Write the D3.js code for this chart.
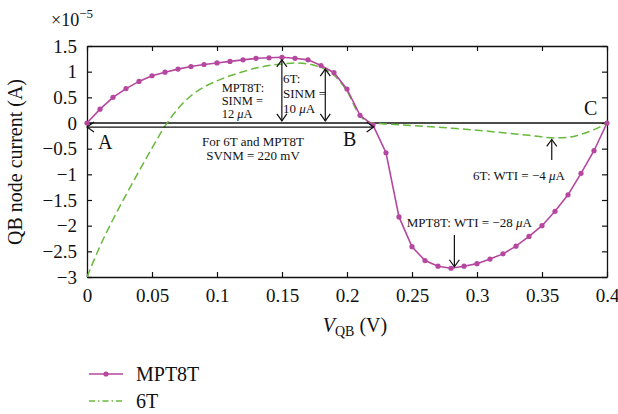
<!DOCTYPE html>
<html>
<head>
<meta charset="utf-8">
<title>QB node current</title>
<style>
  body { margin: 0; background: #fff; }
  text, tspan { font-family: "Liberation Serif", "DejaVu Serif", serif; fill: #111; }
</style>
</head>
<body>
<div id="chart"></div>
<script src="https://cdn.jsdelivr.net/npm/d3@7/dist/d3.min.js"></script>
<script>
// MPT8T: one marker every 10 mV (current in units of 1e-5 A)
var voltage = [0, 0.01, 0.02, 0.03, 0.04, 0.05, 0.06, 0.07, 0.08, 0.09,
               0.10, 0.11, 0.12, 0.13, 0.14, 0.15, 0.16, 0.17, 0.18, 0.19,
               0.20, 0.21, 0.22, 0.23, 0.24, 0.25, 0.26, 0.27, 0.28, 0.29,
               0.30, 0.31, 0.32, 0.33, 0.34, 0.35, 0.36, 0.37, 0.38, 0.39, 0.40];
var mpt8tCurrent = [0, 0.27, 0.50, 0.67, 0.81, 0.92, 0.99, 1.05, 1.10, 1.14,
                    1.17, 1.20, 1.23, 1.26, 1.27, 1.28, 1.26, 1.23, 1.12, 0.98,
                    0.66, 0.15, -0.04, -0.58, -1.83, -2.41, -2.68, -2.79, -2.83, -2.79,
                    -2.74, -2.65, -2.55, -2.40, -2.21, -2.00, -1.72, -1.40, -0.98, -0.54, 0];

// 6T curve (dashed)
var sixTVoltage = [0, 0.01, 0.02, 0.03, 0.04, 0.05, 0.06, 0.07, 0.08, 0.09,
                   0.10, 0.11, 0.12, 0.13, 0.14, 0.15, 0.16, 0.17, 0.18, 0.19,
                   0.20, 0.21, 0.22, 0.23, 0.25, 0.28, 0.30, 0.32, 0.34, 0.36,
                   0.37, 0.38, 0.39, 0.40];
var sixTCurrent = [-3.0, -2.40, -1.88, -1.40, -0.94, -0.49, -0.06, 0.28, 0.53, 0.70,
                   0.82, 0.92, 1.00, 1.07, 1.12, 1.15, 1.17, 1.15, 1.08, 0.93,
                   0.62, 0.14, 0.0, -0.02, -0.05, -0.10, -0.14, -0.19, -0.24, -0.29,
                   -0.28, -0.22, -0.13, 0];

var xTicks = [0, 0.05, 0.1, 0.15, 0.2, 0.25, 0.3, 0.35, 0.4];
var yTicks = [-3, -2.5, -2, -1.5, -1, -0.5, 0, 0.5, 1, 1.5];

var W = 618, H = 414;
var m = { left: 87, right: 11, top: 46, bottom: 137 };
var pw = W - m.left - m.right, ph = H - m.top - m.bottom;
var magenta = "#b5479f", green = "#67b93b";

var svg = d3.select("#chart").append("svg")
    .attr("width", W)
    .attr("height", H);

svg.append("defs").append("marker")
    .attr("id", "head")
    .attr("viewBox", "0 0 7 10")
    .attr("refX", 7).attr("refY", 5)
    .attr("markerWidth", 7).attr("markerHeight", 10)
    .attr("markerUnits", "userSpaceOnUse")
    .attr("orient", "auto-start-reverse")
    .style("overflow", "visible")
  .append("path")
    .attr("d", "M0,0 L7,5 L0,10")
    .attr("fill", "none")
    .attr("stroke", "#111")
    .attr("stroke-width", 1.2);

var g = svg.append("g").attr("transform", "translate(" + m.left + "," + m.top + ")");

var x = d3.scaleLinear().domain([0, 0.4]).range([0, pw]);
var y = d3.scaleLinear().domain([-3, 1.5]).range([ph, 0]);

function fmt(d) {
    var s = String(Math.abs(d));
    return d < 0 ? "\u2212" + s : s;
}

// axes with inward ticks
g.append("g").attr("transform", "translate(0," + ph + ")")
    .call(d3.axisBottom(x).tickValues(xTicks).tickSize(-5).tickSizeOuter(0).tickFormat(fmt))
    .call(function(a) { a.selectAll("text").attr("y", 12).attr("dy", "0.71em").style("font-size", "19px"); });
g.append("g")
    .call(d3.axisLeft(y).tickValues(yTicks).tickSize(-5).tickSizeOuter(0).tickFormat(fmt))
    .call(function(a) { a.selectAll("text").attr("x", -10).style("font-size", "19px"); });
g.append("g")
    .call(d3.axisTop(x).tickValues(xTicks).tickSize(-5).tickSizeOuter(0).tickFormat(""));
g.append("g").attr("transform", "translate(" + pw + ",0)")
    .call(d3.axisRight(y).tickValues(yTicks).tickSize(-5).tickSizeOuter(0).tickFormat(""));
g.selectAll(".domain").attr("stroke", "#111").attr("stroke-width", 1.3);
g.selectAll(".tick line").attr("stroke", "#111").attr("stroke-width", 1.2);
g.selectAll(".tick text").style("fill", "#111").style("font-family", "Liberation Serif, serif");

// zero line
g.append("line")
    .attr("x1", x(0)).attr("x2", x(0.4))
    .attr("y1", y(0)).attr("y2", y(0))
    .attr("stroke", "#111").attr("stroke-width", 1.3);

// 6T curve
var sixT = sixTVoltage.map(function(v, i) { return [v, sixTCurrent[i]]; });
g.append("path")
    .datum(sixT)
    .attr("fill", "none")
    .attr("stroke", green)
    .attr("stroke-width", 1.5)
    .attr("stroke-dasharray", "8,4")
    .attr("d", d3.line().curve(d3.curveMonotoneX)
        .x(function(d) { return x(d[0]); })
        .y(function(d) { return y(d[1]); }));

// MPT8T curve with markers
var mpt = voltage.map(function(v, i) { return [v, mpt8tCurrent[i]]; });
g.append("path")
    .datum(mpt)
    .attr("fill", "none")
    .attr("stroke", magenta)
    .attr("stroke-width", 1.6)
    .attr("d", d3.line()
        .x(function(d) { return x(d[0]); })
        .y(function(d) { return y(d[1]); }));
g.selectAll(".pt")
    .data(mpt)
    .enter().append("circle")
        .attr("class", "pt")
        .attr("cx", function(d) { return x(d[0]); })
        .attr("cy", function(d) { return y(d[1]); })
        .attr("r", 2.6)
        .attr("fill", magenta);

// annotation arrows (data units)
var arrows = [
    { x1: 0, y1: -0.08, x2: 0.2205, y2: -0.08, both: true },
    { x1: 0.1499, y1: 1.23, x2: 0.1499, y2: 0.04, both: true },
    { x1: 0.1833, y1: 1.05, x2: 0.1833, y2: 0.04, both: true },
    { x1: 0.3575, y1: -0.72, x2: 0.3575, y2: -0.32, both: false },
    { x1: 0.2826, y1: -2.18, x2: 0.2826, y2: -2.80, both: false }
];
g.selectAll(".arrow")
    .data(arrows)
    .enter().append("line")
        .attr("class", "arrow")
        .attr("x1", function(d) { return x(d.x1); })
        .attr("y1", function(d) { return y(d.y1); })
        .attr("x2", function(d) { return x(d.x2); })
        .attr("y2", function(d) { return y(d.y2); })
        .attr("stroke", "#111")
        .attr("stroke-width", 1.2)
        .attr("marker-end", "url(#head)")
        .attr("marker-start", function(d) { return d.both ? "url(#head)" : null; });

// annotation texts
var notes = [
    { x: 0.1036, y: 0.60, lines: ["MPT8T:", "SINM =", "12 |A"], step: 12.8, size: 12.5 },
    { x: 0.1508, y: 0.78, lines: ["6T:", "SINM =", "10 |A"], step: 15, size: 13 },
    { x: 0.1277, y: -0.448, lines: ["For 6T and MPT8T", "SVNM = 220 mV"], step: 14, size: 13, anchor: "middle" },
    { x: 0.297, y: -1.11, lines: ["6T: WTI = \u22124 |A"], step: 0, size: 13 },
    { x: 0.246, y: -2.026, lines: ["MPT8T: WTI = \u221228 |A"], step: 0, size: 13 },
    { x: 0.0085, y: -0.507, lines: ["A"], step: 0, size: 20 },
    { x: 0.197, y: -0.448, lines: ["B"], step: 0, size: 20 },
    { x: 0.3823, y: 0.156, lines: ["C"], step: 0, size: 20 }
];
notes.forEach(function(n) {
    n.lines.forEach(function(line, i) {
        var t = g.append("text")
            .attr("x", x(n.x))
            .attr("y", y(n.y) + i * n.step)
            .attr("text-anchor", n.anchor || "start")
            .style("font-size", n.size + "px");
        var parts = line.split("|");
        t.append("tspan").style("fill", "#111").text(parts[0]);
        if (parts.length > 1) {
            t.append("tspan").style("font-style", "italic").style("fill", "#111").text("\u03bc");
            t.append("tspan").style("fill", "#111").text(parts[1]);
        }
    });
});

// exponent
var ex = svg.append("text").attr("x", 51).attr("y", 26).style("font-size", "18px");
ex.append("tspan").text("\u00d710");
ex.append("tspan").attr("dy", -8).style("font-size", "13px").text("\u22125");

// axis titles
svg.append("text")
    .attr("transform", "translate(22," + 162 + ") rotate(-90)")
    .attr("text-anchor", "middle")
    .style("font-size", "20px")
    .text("QB node current (A)");
var xt = svg.append("text")
    .attr("x", m.left + pw / 2 + 8)
    .attr("y", 332)
    .attr("text-anchor", "middle")
    .style("font-size", "20px");
xt.append("tspan").style("font-style", "italic").text("V");
xt.append("tspan").attr("dy", 4).style("font-size", "14px").text("QB");
xt.append("tspan").attr("dy", -4).text(" (V)");

// legend
var legend = [
    { name: "MPT8T", color: magenta, dash: null, marker: true },
    { name: "6T", color: green, dash: "6,3,1.5,3", marker: false }
];
var lg = svg.selectAll(".legend")
    .data(legend)
    .enter().append("g")
        .attr("class", "legend")
        .attr("transform", function(d, i) { return "translate(0," + (374 + i * 27) + ")"; });
lg.append("line")
    .attr("x1", 89).attr("x2", 123)
    .attr("stroke", function(d) { return d.color; })
    .attr("stroke-width", 1.6)
    .attr("stroke-dasharray", function(d) { return d.dash; });
lg.filter(function(d) { return d.marker; }).append("circle")
    .attr("cx", 106).attr("r", 2.6)
    .attr("fill", function(d) { return d.color; });
lg.append("text")
    .attr("x", 136).attr("y", 6.5)
    .style("font-size", "20px")
    .text(function(d) { return d.name; });
</script>
</body>
</html>
